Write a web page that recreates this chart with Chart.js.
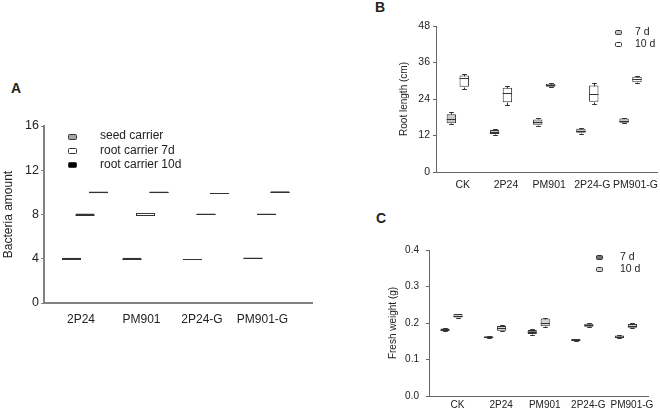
<!DOCTYPE html>
<html>
<head>
<meta charset="utf-8">
<script src="https://cdn.jsdelivr.net/npm/chart.js@4.4.1/dist/chart.umd.min.js"></script>
<style>
  body { margin: 0; background: #fff; width: 660px; height: 412px; position: relative; overflow: hidden;
         font-family: "Liberation Sans", Arial, sans-serif; color: #222; }
  .tag { position: absolute; font-weight: bold; font-size: 14px; }
  .box { position: absolute; }
</style>
</head>
<body>
<div class="tag" style="left:11px;top:80px">A</div>
<div class="tag" style="left:375px;top:-1px">B</div>
<div class="tag" style="left:376px;top:210px">C</div>
<div class="box" style="left:0;top:100px;width:330px;height:240px"><canvas id="chartA"></canvas></div>
<div class="box" style="left:350px;top:0;width:310px;height:200px"><canvas id="chartB"></canvas></div>
<div class="box" style="left:350px;top:200px;width:310px;height:212px"><canvas id="chartC"></canvas></div>
<script>
// each box is [min, q1, median, q3, max]
const strainsA = ["2P24", "PM901", "2P24-G", "PM901-G"];
const seedCarrier = [[3.92, 3.92, 4, 4.08, 4.08], [3.92, 3.92, 4, 4.08, 4.08], [4, 4, 4, 4, 4], [3.98, 3.98, 4.05, 4.12, 4.12]];
const rootCarrier7d = [[7.92, 7.92, 8, 8.08, 8.08], [7.86, 7.86, 8, 8.14, 8.14], [7.95, 7.95, 8.02, 8.09, 8.09], [7.95, 7.95, 8.02, 8.09, 8.09]];
const rootCarrier10d = [[9.92, 9.92, 10, 10.08, 10.08], [9.92, 9.92, 10, 10.08, 10.08], [9.9, 9.9, 9.9, 9.9, 9.9], [9.94, 9.94, 10.02, 10.1, 10.1]];

const strainsBC = ["CK", "2P24", "PM901", "2P24-G", "PM901-G"];
const rootLength7d = [[15.7, 16.0, 17.4, 19.0, 19.6], [12.2, 12.5, 13.1, 13.8, 14.2], [15.2, 15.5, 16.3, 17.3, 17.6], [12.6, 12.9, 13.5, 14.2, 14.6], [16.0, 16.2, 16.8, 17.6, 17.9]];
const rootLength10d = [[27.2, 28.0, 31.0, 31.7, 32.1], [22.0, 22.9, 25.9, 27.7, 28.4], [27.8, 28.0, 28.5, 29.0, 29.2], [22.4, 23.1, 25.6, 28.4, 29.2], [29.2, 29.5, 30.5, 31.3, 31.6]];
const freshWeight7d = [[0.179, 0.180, 0.182, 0.185, 0.186], [0.158, 0.159, 0.161, 0.164, 0.165], [0.168, 0.170, 0.176, 0.181, 0.183], [0.152, 0.153, 0.154, 0.156, 0.157], [0.158, 0.159, 0.162, 0.166, 0.168]];
const freshWeight10d = [[0.214, 0.215, 0.220, 0.225, 0.226], [0.178, 0.179, 0.185, 0.192, 0.194], [0.189, 0.191, 0.200, 0.212, 0.215], [0.189, 0.190, 0.195, 0.198, 0.200], [0.186, 0.187, 0.192, 0.197, 0.200]];

const ticksA = [0, 4, 8, 12, 16];
const ticksB = [0, 12, 24, 36, 48];
const ticksC = [0, 0.1, 0.2, 0.3, 0.4];

// floating bar = box, the rest is drawn by the plugin below
function toBoxes(stats) {
  return stats.map((s, i) => ({ x: i + 1, y: [s[1], s[3]], min: s[0], med: s[2], max: s[4] }));
}

const whiskers = {
  id: "whiskers",
  afterDatasetsDraw(chart) {
    const ctx = chart.ctx;
    const ys = chart.scales.y;
    ctx.save();
    chart.data.datasets.forEach((ds, di) => {
      const meta = chart.getDatasetMeta(di);
      meta.data.forEach((bar, i) => {
        const d = ds.data[i];
        const half = bar.width / 2;
        const px = v => Math.round(ys.getPixelForValue(v)) + 0.5;
        const cx = Math.round(bar.x) + 0.5;
        ctx.strokeStyle = ds.lineColor || "#333";
        ctx.lineWidth = 1;
        ctx.beginPath();
        if (d.max > d.y[1]) {
          ctx.moveTo(cx, px(d.y[1])); ctx.lineTo(cx, px(d.max));
          ctx.moveTo(cx - half / 2, px(d.max)); ctx.lineTo(cx + half / 2, px(d.max));
        }
        if (d.min < d.y[0]) {
          ctx.moveTo(cx, px(d.y[0])); ctx.lineTo(cx, px(d.min));
          ctx.moveTo(cx - half / 2, px(d.min)); ctx.lineTo(cx + half / 2, px(d.min));
        }
        ctx.moveTo(bar.x - half, px(d.med)); ctx.lineTo(bar.x + half, px(d.med));
        ctx.stroke();
      });
    });
    ctx.restore();
  }
};

const boxLegend = {
  id: "boxLegend",
  afterDraw(chart, args, opts) {
    const ctx = chart.ctx;
    ctx.save();
    ctx.font = opts.font;
    ctx.textBaseline = "middle";
    chart.data.datasets.forEach((ds, i) => {
      const y = opts.y + i * opts.lineH;
      ctx.fillStyle = ds.backgroundColor;
      ctx.strokeStyle = "#333";
      ctx.lineWidth = 1;
      ctx.beginPath();
      ctx.roundRect(opts.x + 0.5, Math.round(y - opts.h / 2) + 0.5, opts.w, opts.h, 1);
      ctx.fill();
      ctx.stroke();
      ctx.fillStyle = "#222";
      ctx.fillText(ds.label, opts.textX, y);
    });
    ctx.restore();
  }
};

function boxChart(id, cfg) {
  const datasets = cfg.series.map(s => ({
    label: s.label,
    data: toBoxes(s.stats),
    backgroundColor: s.fill,
    borderColor: "#333",
    borderWidth: 1,
    borderSkipped: false,
    lineColor: s.line || "#333",
    categoryPercentage: cfg.cp,
    barPercentage: cfg.bp,
  }));
  return new Chart(document.getElementById(id), {
    type: "bar",
    data: { datasets },
    plugins: [whiskers, boxLegend],
    options: {
      responsive: true,
      maintainAspectRatio: false,
      animation: false,
      layout: { padding: cfg.padding },
      plugins: {
        legend: { display: false },
        tooltip: { enabled: false },
        boxLegend: cfg.legend,
      },
      scales: {
        x: {
          type: "linear",
          min: cfg.xMin,
          max: cfg.xMax,
          offset: false,
          grid: { display: false, drawTicks: false, offset: false },
          border: { display: true, color: cfg.axisColor, width: cfg.axisWidth },
          afterBuildTicks: s => { s.ticks = cfg.labels.map((c, i) => ({ value: i + 1 })); },
          afterFit: s => { s.height = cfg.xHeight; },
          ticks: {
            autoSkip: false,
            maxRotation: 0,
            padding: cfg.xPad,
            labelOffset: cfg.labelOffset,
            color: "#222",
            font: { family: "Liberation Sans", size: cfg.xFont },
            callback: v => cfg.labels[v - 1],
          },
        },
        y: {
          min: cfg.yTicks[0],
          max: cfg.yTicks[cfg.yTicks.length - 1],
          grid: { display: true, drawOnChartArea: false, drawTicks: true, tickLength: 3, color: cfg.axisColor },
          border: { display: true, color: cfg.axisColor, width: cfg.axisWidth },
          afterBuildTicks: s => { s.ticks = cfg.yTicks.map(v => ({ value: v })); },
          afterFit: s => { s.width = cfg.yWidth; },
          ticks: {
            padding: cfg.yPad,
            color: "#222",
            font: { family: "Liberation Sans", size: cfg.yFont },
            callback: cfg.yFmt,
          },
          title: {
            display: true,
            text: cfg.yTitle,
            color: "#222",
            font: { family: "Liberation Sans", size: cfg.titleFont },
            padding: { top: cfg.titlePad, bottom: 0 },
          },
        },
      },
    },
  });
}

boxChart("chartA", {
  labels: strainsA,
  series: [
    { label: "seed carrier", stats: seedCarrier, fill: "#a6a6a6" },
    { label: "root carrier 7d", stats: rootCarrier7d, fill: "#ffffff" },
    { label: "root carrier 10d", stats: rootCarrier10d, fill: "#000000" },
  ],
  cp: 0.67, bp: 1.41,
  xMin: 0.322, xMax: 4.752,
  padding: { left: 0, top: 26, right: 18, bottom: 0 },
  yWidth: 44, xHeight: 37, xPad: 9, yPad: 2, labelOffset: -4,
  xFont: 12, yFont: 12.5, titleFont: 12, titlePad: 1,
  axisColor: "#808080", axisWidth: 2,
  yTicks: ticksA, yFmt: v => v, yTitle: "Bacteria amount",
  legend: { x: 68, y: 36, lineH: 14.2, w: 8, h: 5, textX: 100, font: "12px 'Liberation Sans'" },
});

boxChart("chartB", {
  labels: strainsBC,
  series: [
    { label: "7 d", stats: rootLength7d, fill: "#c8c8c8" },
    { label: "10 d", stats: rootLength10d, fill: "#ffffff" },
  ],
  cp: 0.596, bp: 0.73,
  xMin: 0.495, xMax: 5.633,
  padding: { left: 44, top: 26, right: 0, bottom: 0 },
  yWidth: 42, xHeight: 28, xPad: 7, yPad: 3, labelOffset: 5,
  xFont: 10.5, yFont: 10.5, titleFont: 10, titlePad: 4,
  axisColor: "#666666", axisWidth: 1,
  yTicks: ticksB, yFmt: v => v, yTitle: "Root length (cm)",
  legend: { x: 265, y: 32, lineH: 12, w: 6, h: 4, textX: 285, font: "10.5px 'Liberation Sans'" },
});

boxChart("chartC", {
  labels: strainsBC,
  series: [
    { label: "7 d", stats: freshWeight7d, fill: "#707070" },
    { label: "10 d", stats: freshWeight10d, fill: "#d4d4d4" },
  ],
  cp: 0.596, bp: 0.7,
  xMin: 0.484, xMax: 5.506,
  padding: { left: 33, top: 50, right: 12, bottom: 0 },
  yWidth: 46, xHeight: 16, xPad: 3, yPad: 7, labelOffset: 6,
  xFont: 10, yFont: 10, titleFont: 10, titlePad: 4,
  axisColor: "#666666", axisWidth: 1,
  yTicks: ticksC, yFmt: v => v.toFixed(1), yTitle: "Fresh weight (g)",
  legend: { x: 246, y: 57, lineH: 12, w: 6, h: 4, textX: 270, font: "10.5px 'Liberation Sans'" },
});
</script>
</body>
</html>
